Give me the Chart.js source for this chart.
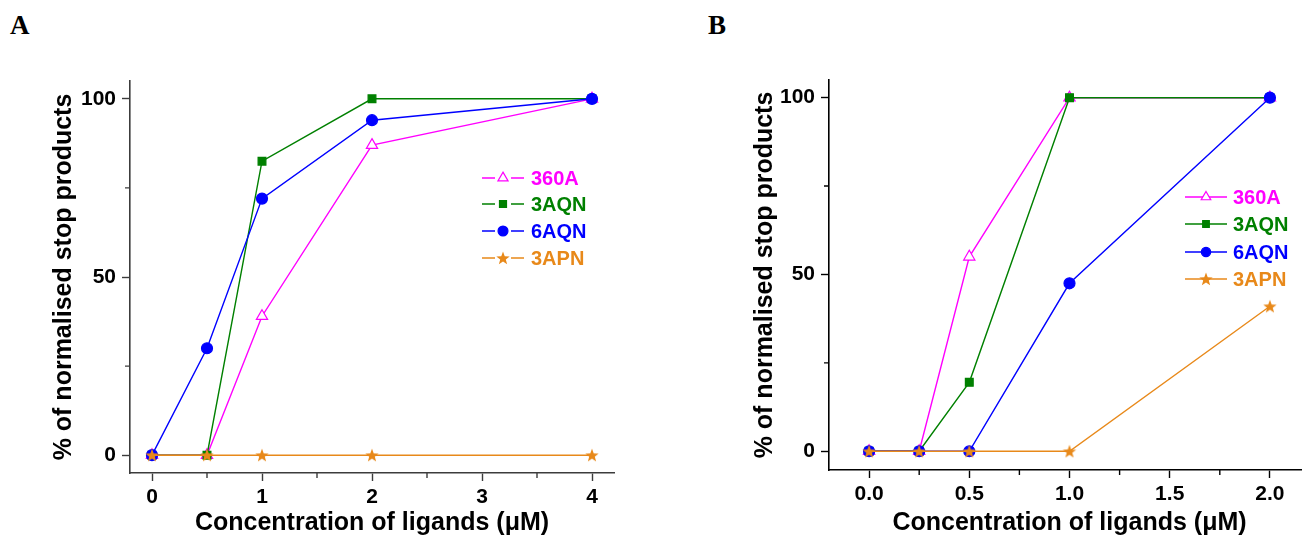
<!DOCTYPE html>
<html><head><meta charset="utf-8">
<script src="https://cdn.jsdelivr.net/npm/chart.js@4.4.1/dist/chart.umd.min.js"></script>
<style>
html,body{margin:0;padding:0;background:#fff;overflow:hidden;width:1302px;height:539px;position:relative;}
#wrapA{position:absolute;left:0;top:0;width:650px;height:539px;}
#wrapB{position:absolute;left:650px;top:0;width:680px;height:539px;}
.lbl{position:absolute;font-family:"Liberation Serif","DejaVu Serif",serif;font-weight:bold;font-size:27px;line-height:27px;color:#000;}
</style></head><body>
<div class="lbl" style="left:10px;top:12px">A</div>
<div class="lbl" style="left:708px;top:12px">B</div>
<div id="wrapA"><canvas id="cA" width="650" height="539"></canvas></div>
<div id="wrapB"><canvas id="cB" width="680" height="539"></canvas></div>
<script>
// ---------- data ----------
const seriesNames = ['360A', '3AQN', '6AQN', '3APN'];

const concA = [0, 0.5, 1, 2, 4];
const a360A = [0, 0, 39, 87, 100];
const a3AQN = [0, 0, 82.5, 100, 100];
const a6AQN = [0, 30, 72, 94, 100];
const a3APN = [0, 0, 0, 0, 0];

const concB = [0, 0.25, 0.5, 1, 2];
const b360A = [0, 0, 55, 100, 100];
const b3AQN = [0, 0, 19.5, 100, 100];
const b6AQN = [0, 0, 0, 47.5, 100];
const b3APN = [0, 0, 0, 0, 41];

const xTicksA = [0, 1, 2, 3, 4];
const xMinorA = [0.5, 1.5, 2.5, 3.5];
const xTicksB = [0, 0.5, 1, 1.5, 2];
const xMinorB = [0.25, 0.75, 1.25, 1.75];
const yTicks = [0, 50, 100];
const yMinor = [25, 75];

const xTitle = 'Concentration of ligands (\u03bcM)';
const yTitle = '% of normalised stop products';

// ---------- styles ----------
const COLORS = ['#ff00ff', '#008000', '#0000ff', '#e8891a'];
const FONT = '"Liberation Sans", Arial, sans-serif';

function makeStar(color, R) {
  const c = document.createElement('canvas');
  const s = Math.ceil(R * 2 + 2);
  c.width = s; c.height = s;
  const g = c.getContext('2d');
  g.fillStyle = color;
  g.beginPath();
  for (let i = 0; i < 10; i++) {
    const r = i % 2 === 0 ? R : R * 0.42;
    const a = -Math.PI / 2 + i * Math.PI / 5;
    const px = s / 2 + r * Math.cos(a), py = s / 2 + r * Math.sin(a) + 0.6;
    if (i === 0) g.moveTo(px, py); else g.lineTo(px, py);
  }
  g.closePath();
  g.fill();
  return c;
}
const starImg = makeStar(COLORS[3], 7);

function pts(xs, ys) { return xs.map((x, i) => ({ x: x, y: ys[i] })); }

function makeDatasets(xs, s1, s2, s3, s4) {
  const vals = [s1, s2, s3, s4];
  const styles = [
    { pointStyle: 'triangle', pointRadius: 6.5, pointBackgroundColor: '#ffffff', order: 3 },
    { pointStyle: 'rect', pointRadius: 5.5, pointBackgroundColor: COLORS[1], order: 2 },
    { pointStyle: 'circle', pointRadius: 5.5, pointBackgroundColor: COLORS[2], order: 1 },
    { pointStyle: starImg, pointRadius: 7, pointBackgroundColor: COLORS[3], order: 0 }
  ];
  return vals.map((v, i) => Object.assign({
    label: seriesNames[i],
    data: pts(xs, v),
    borderColor: COLORS[i],
    pointBorderColor: COLORS[i],
    borderWidth: 1.4,
    pointBorderWidth: 1.2,
    tension: 0,
    fill: false,
    clip: false
  }, styles[i]));
}

// plugin: minor ticks + custom legend
const extras = {
  id: 'extras',
  afterDraw(chart, args, opts) {
    const ctx = chart.ctx;
    const xs = chart.scales.x, ys = chart.scales.y;
    ctx.save();
    ctx.strokeStyle = opts.axisColor;
    ctx.lineWidth = 1.4;
    ctx.beginPath();
    opts.xMinor.forEach(v => {
      const p = xs.getPixelForValue(v);
      ctx.moveTo(p, xs.top); ctx.lineTo(p, xs.top + 5);
    });
    opts.yMinor.forEach(v => {
      const p = ys.getPixelForValue(v);
      ctx.moveTo(ys.right, p); ctx.lineTo(ys.right - 5, p);
    });
    ctx.stroke();
    // legend
    const L = opts.legend;
    chart.data.datasets.forEach((ds, i) => {
      const y = L.ys[i];
      ctx.strokeStyle = ds.borderColor;
      ctx.lineWidth = 1.4;
      ctx.beginPath();
      if (L.gap) {
        ctx.moveTo(L.x0, y); ctx.lineTo(L.mx - L.gap, y);
        ctx.moveTo(L.mx + L.gap, y); ctx.lineTo(L.x1, y);
      } else {
        ctx.moveTo(L.x0, y); ctx.lineTo(L.x1, y);
      }
      ctx.stroke();
      ctx.fillStyle = ds.pointBackgroundColor;
      ctx.strokeStyle = ds.pointBorderColor;
      ctx.lineWidth = ds.pointBorderWidth;
      Chart.helpers.drawPoint(ctx, { pointStyle: ds.pointStyle, radius: ds.pointRadius * L.scale, rotation: 0, borderWidth: ds.pointBorderWidth }, L.mx, y);
      ctx.fillStyle = ds.borderColor;
      ctx.font = 'bold ' + L.fontSize + 'px ' + FONT;
      ctx.textBaseline = 'middle';
      ctx.textAlign = 'left';
      ctx.fillText(ds.label, L.tx, y + 1);
    });
    ctx.restore();
  }
};

function makeChart(id, cfg) {
  return new Chart(document.getElementById(id), {
    type: 'line',
    data: { datasets: cfg.datasets },
    options: {
      responsive: false,
      animation: false,
      events: [],
      layout: { padding: { top: cfg.padTop, right: cfg.padRight, left: 0, bottom: 0 } },
      plugins: {
        legend: { display: false },
        tooltip: { enabled: false },
        extras: { xMinor: cfg.xMinor, yMinor: yMinor, axisColor: cfg.axisColor, legend: cfg.legend }
      },
      scales: {
        x: {
          type: 'linear', min: cfg.xMin, max: cfg.xMax,
          afterBuildTicks: s => { s.ticks = cfg.xTicks.map(v => ({ value: v })); },
          afterFit: s => { s.height = cfg.xAxisH; },
          ticks: { color: '#000', font: { family: FONT, size: 21, weight: 'bold' }, padding: 4, maxRotation: 0, autoSkip: false, callback: cfg.xFmt },
          grid: { display: true, drawOnChartArea: false, drawTicks: true, tickLength: 8, tickColor: cfg.axisColor, tickWidth: 1.4 },
          border: { display: true, color: cfg.axisColor, width: 1.6 },
          title: { display: true, text: xTitle, color: '#000', font: { family: FONT, size: 25, weight: 'bold' }, padding: { top: 0, bottom: 1 } }
        },
        y: {
          type: 'linear', min: cfg.yMin, max: cfg.yMax,
          afterBuildTicks: s => { s.ticks = yTicks.map(v => ({ value: v })); },
          afterFit: s => { s.width = cfg.yAxisW; },
          ticks: { color: '#000', font: { family: FONT, size: 21, weight: 'bold' }, padding: 6, callback: v => String(v) },
          grid: { display: true, drawOnChartArea: false, drawTicks: true, tickLength: 8, tickColor: cfg.axisColor, tickWidth: 1.4 },
          border: { display: true, color: cfg.axisColor, width: 1.6 },
          title: { display: true, text: yTitle, color: '#000', font: { family: FONT, size: 25, weight: 'bold' }, padding: { top: cfg.yTitlePad, bottom: 0 } }
        }
      }
    },
    plugins: [extras]
  });
}

makeChart('cA', {
  datasets: makeDatasets(concA, a360A, a3AQN, a6AQN, a3APN),
  xMin: -0.2, xMax: 4.2, yMin: -5, yMax: 105,
  xTicks: xTicksA, xMinor: xMinorA, xFmt: v => String(v),
  padTop: 81, padRight: 36, yAxisW: 130, xAxisH: 66, yTitlePad: 49,
  axisColor: '#3c3c3c',
  legend: { x0: 482, x1: 524, mx: 503, gap: 8, tx: 531, ys: [178, 204, 231, 258], fontSize: 20, scale: 0.9 }
});

makeChart('cB', {
  datasets: makeDatasets(concB, b360A, b3AQN, b6AQN, b3APN),
  xMin: -0.2, xMax: 2.2, yMin: -5.3, yMax: 105,
  xTicks: xTicksB, xMinor: xMinorB, xFmt: v => v.toFixed(1),
  padTop: 80, padRight: 20, yAxisW: 179, xAxisH: 69, yTitlePad: 100,
  axisColor: '#000000',
  legend: { x0: 1185 - 650, x1: 1227 - 650, mx: 1206 - 650, gap: 0, tx: 1233 - 650, ys: [197, 224, 252, 279], fontSize: 20, scale: 0.85 }
});
</script>
</body></html>
